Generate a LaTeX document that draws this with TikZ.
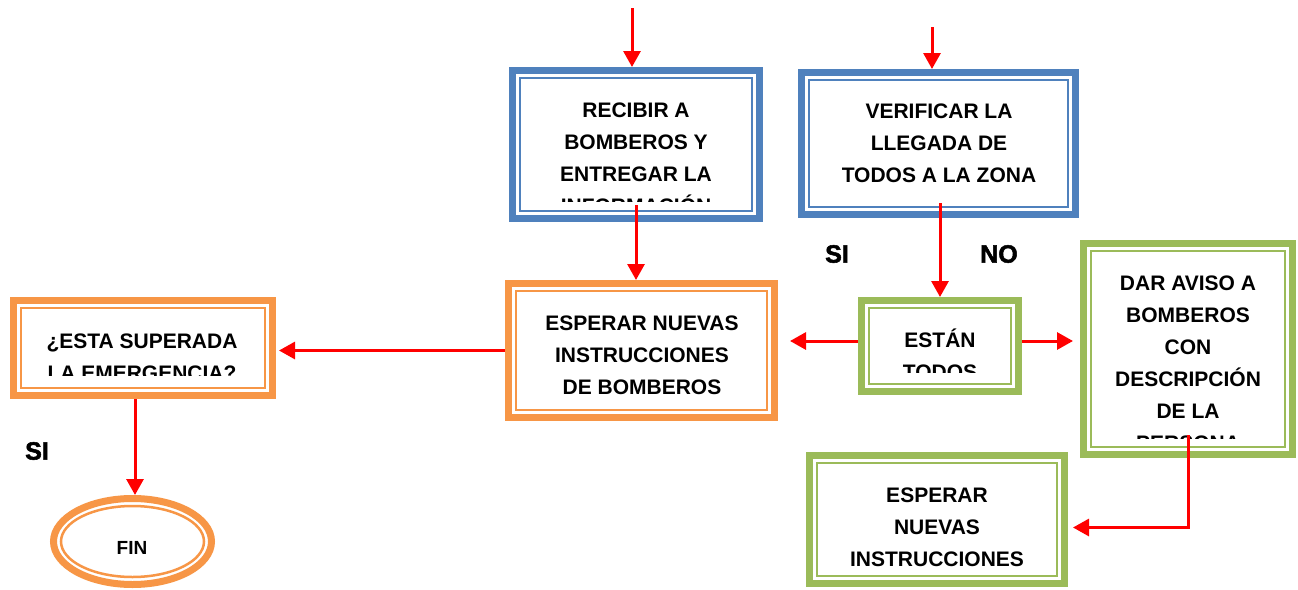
\documentclass[tikz,border=0pt]{standalone}
\usepackage{fontspec}
\setmainfont{Liberation Sans}
\newfontfamily\heavyfont{Liberation Sans}[BoldFeatures = {FakeBold = 2}]
\usetikzlibrary{arrows.meta,shapes.geometric}
\definecolor{boxblue}{HTML}{4F81BD}
\definecolor{boxorange}{HTML}{F79646}
\definecolor{boxgreen}{HTML}{9BBB59}

\begin{document}
\begin{tikzpicture}[x = 1pt, y = -1pt,
    dbox/.style = {rectangle, draw = #1, fill = white, line width = 7pt,
        path picture = {\draw [#1, line width = 2.5pt]
            ([xshift = 7.5pt, yshift = -7.5pt]path picture bounding box.north west) rectangle
            ([xshift = -7.5pt, yshift = 7.5pt]path picture bounding box.south east);}},
    txt/.style = {align = center, inner sep = 0pt, font = \fontsize{21}{32}\selectfont\bfseries},
    flow/.style = {draw = red, line width = 3pt, -{Triangle[length = 16pt, width = 17pt]}},
    answer/.style = {font = \heavyfont\fontsize{25}{30}\selectfont\bfseries}]

    \useasboundingbox (0, 0) rectangle (1298, 589);

    % Boxes
    \node [dbox = boxblue, minimum width = 247pt, minimum height = 148pt] (recibir) at (636, 144.5) {};
    \node [dbox = boxblue, minimum width = 274pt, minimum height = 142pt] (verificar) at (938.5, 143.5) {};
    \node [dbox = boxorange, minimum width = 259pt, minimum height = 95pt] (superada) at (143, 348) {};
    \node [dbox = boxorange, minimum width = 266pt, minimum height = 134pt] (esperar) at (641.5, 350.5) {};
    \node [dbox = boxgreen, minimum width = 157pt, minimum height = 91pt] (estan) at (940, 346) {};
    \node [dbox = boxgreen, minimum width = 209pt, minimum height = 211pt] (aviso) at (1188, 349) {};
    \node [dbox = boxgreen, minimum width = 255pt, minimum height = 128pt] (nuevas) at (937, 519.5) {};
    \node [ellipse, draw = boxorange, fill = white, line width = 7pt, minimum width = 158pt, minimum height = 86pt] (fin) at (132.5, 541.5) {};
    \draw [boxorange, line width = 2.5pt] (fin.center) ellipse [x radius = 71.5pt, y radius = 35.5pt];

    % Texts
    \begin{scope}
        \clip (520, 78) rectangle (752, 201);
        \node [txt] (recibir-t) at (636, 158) {RECIBIR A\\BOMBEROS Y\\ENTREGAR LA\\INFORMACIÓN};
    \end{scope}
    \node [txt] (verificar-t) at (939, 143.5) {VERIFICAR LA\\LLEGADA DE\\TODOS A LA ZONA};
    \begin{scope}
        \clip (24, 305) rectangle (262, 375);
        \node [txt] (superada-t) at (142, 357) {¿ESTA SUPERADA\\LA EMERGENCIA?};
    \end{scope}
    \node [txt] (esperar-t) at (642, 355) {ESPERAR NUEVAS\\INSTRUCCIONES\\DE BOMBEROS};
    \begin{scope}
        \clip (870, 305) rectangle (1010, 372);
        \node [txt] (estan-t) at (940, 354) {ESTÁN\\TODOS};
    \end{scope}
    \begin{scope}
        \clip (1092, 250) rectangle (1284, 438);
        \node [txt] (aviso-t) at (1188, 363) {DAR AVISO A\\BOMBEROS\\CON\\DESCRIPCIÓN\\DE LA\\PERSONA};
    \end{scope}
    \node [txt] (nuevas-t) at (937, 527.5) {ESPERAR\\NUEVAS\\INSTRUCCIONES};
    \node [txt, font = \fontsize{19}{22}\selectfont\bfseries] (fin-t) at (132, 548) {FIN};

    % Arrows
    \coordinate (in1) at (632, 8);
    \coordinate (in2) at (932, 27);
    \draw [flow] (in1) -- (in1 |- recibir.north);
    \draw [flow] (in2) -- (in2 |- verificar.north);

    \coordinate (r-out) at ([yshift = 17pt]recibir.south);
    \draw [flow] (r-out) -- (r-out |- esperar.north);

    \path (estan.north |- verificar.south) ++(0pt, 15pt) coordinate (v-out);
    \draw [flow] (v-out) -- (estan.north);

    \draw [flow, shorten > = 3pt] (esperar.west) -- (esperar.west -| superada.east);

    \coordinate (e-left) at ([yshift = 5pt]estan.west);
    \coordinate (e-right) at ([yshift = 5pt]estan.east);
    \draw [flow, shorten > = 12pt] (e-left) -- (e-left -| esperar.east);
    \draw [flow, shorten > = 7pt] (e-right) -- (e-right -| aviso.west);

    \coordinate (a-out) at ([yshift = 23pt]aviso.south);
    \draw [flow, shorten > = 5pt] (a-out) |- ([yshift = -8pt]nuevas.east);

    \coordinate (s-out) at ([xshift = -8pt]superada.south);
    \draw [flow] (s-out) -- (s-out |- fin.north);

    % Answers
    \node [answer] (si-a) at (837, 254) {SI};
    \node [answer] (no-a) at (999, 254) {NO};
    \node [answer] (si-b) at (37, 451) {SI};

\end{tikzpicture}
\end{document}
